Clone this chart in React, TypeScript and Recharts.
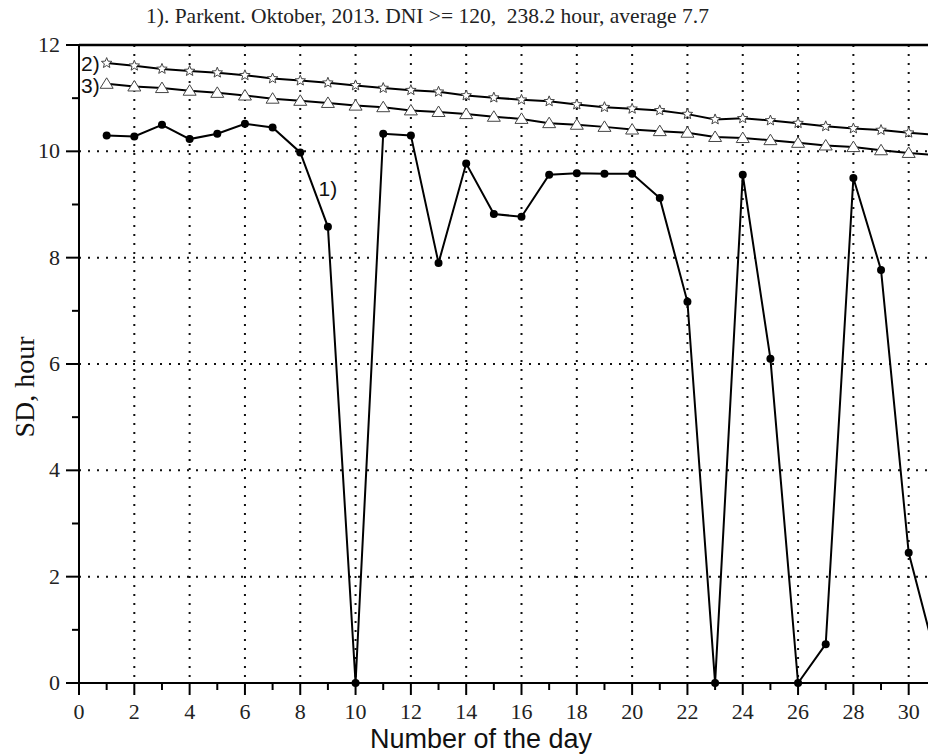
import React from 'react';
import { LineChart, Line, XAxis, YAxis, CartesianGrid, ReferenceLine, LabelList, Label } from 'recharts';

// day of October 2013
const days = [
  1, 2, 3, 4, 5, 6, 7, 8, 9, 10, 11, 12, 13, 14, 15, 16,
  17, 18, 19, 20, 21, 22, 23, 24, 25, 26, 27, 28, 29, 30, 31,
];

// 1) measured sunshine duration, DNI >= 120
const sdHours = [
  10.3, 10.28, 10.5, 10.23, 10.33, 10.52, 10.45, 9.98, 8.58, 0, 10.33, 10.3, 7.9, 9.77, 8.82, 8.77,
  9.56, 9.59, 9.58, 9.58, 9.12, 7.17, 0, 9.56, 6.1, 0, 0.73, 9.5, 7.77, 2.45, 0.45,
];

// 2) stars
const curve2 = [
  11.66, 11.61, 11.55, 11.51, 11.48, 11.43, 11.37, 11.33, 11.29, 11.24, 11.19, 11.15, 11.12, 11.05, 11.01, 10.97,
  10.94, 10.88, 10.83, 10.8, 10.77, 10.7, 10.6, 10.62, 10.58, 10.53, 10.47, 10.43, 10.4, 10.35, 10.31,
];

// 3) triangles
const curve3 = [
  11.27, 11.22, 11.19, 11.14, 11.1, 11.05, 10.99, 10.95, 10.91, 10.86, 10.83, 10.77, 10.74, 10.7, 10.65, 10.61,
  10.53, 10.5, 10.46, 10.41, 10.38, 10.35, 10.27, 10.25, 10.21, 10.16, 10.11, 10.08, 10.02, 9.97, 9.93,
];

const xTicks = Array.from({ length: 33 }, (_, i) => i);
const yTicks = Array.from({ length: 13 }, (_, i) => i);
const xGrid = [2, 4, 6, 8, 10, 12, 14, 16, 18, 20, 22, 24, 26, 28, 30, 32];
const yGrid = [2, 4, 6, 8, 10];

const data = days.map((d, i) => ({ day: d, sd: sdHours[i], c2: curve2[i], c3: curve3[i] }));

const SERIF = '"Liberation Serif", "Times New Roman", serif';
const SANS = '"Liberation Sans", Arial, sans-serif';

const XTick = (props: any) => {
  const { x, y, payload } = props;
  const major = payload.value % 2 === 0;
  return (
    <g>
      <line x1={x} x2={x} y1={y} y2={y + (major ? 12 : 7)} stroke="#000" strokeWidth={2} />
      {major && payload.value <= 30 && (
        <text x={x} y={y + 36} textAnchor="middle" fontFamily={SERIF} fontSize={22} fill="#222">
          {payload.value}
        </text>
      )}
    </g>
  );
};

const YTick = (props: any) => {
  const { x, y, payload } = props;
  const major = payload.value % 2 === 0;
  return (
    <g>
      <line x1={x - (major ? 13 : 7)} x2={x} y1={y} y2={y} stroke="#000" strokeWidth={2} />
      {major && (
        <text x={x - 19} y={y + 7} textAnchor="end" fontFamily={SERIF} fontSize={22} fill="#222">
          {payload.value}
        </text>
      )}
    </g>
  );
};

const starPath = (cx: number, cy: number, ro: number, ri: number) => {
  const pts: string[] = [];
  for (let k = 0; k < 10; k++) {
    const r = k % 2 === 0 ? ro : ri;
    const a = -Math.PI / 2 + (k * Math.PI) / 5;
    pts.push(`${(cx + r * Math.cos(a)).toFixed(2)},${(cy + r * Math.sin(a)).toFixed(2)}`);
  }
  return 'M' + pts.join('L') + 'Z';
};

const StarDot = (p: any) =>
  p.cx == null ? null : (
    <path key={p.index} d={starPath(p.cx, p.cy, 5.5, 2.4)} fill="#fff" stroke="#444" strokeWidth={1} />
  );

const TriDot = (p: any) =>
  p.cx == null ? null : (
    <path
      key={p.index}
      d={`M${p.cx},${p.cy - 6}L${p.cx + 6.5},${p.cy + 4.5}L${p.cx - 6.5},${p.cy + 4.5}Z`}
      fill="#fff"
      stroke="#444"
      strokeWidth={1}
    />
  );

const RoundDot = (p: any) =>
  p.cx == null ? null : <circle key={p.index} cx={p.cx} cy={p.cy} r={4} fill="#000" />;

const seriesTag = (text: string, at: number, dx: number, dy: number, anchor: string) => (props: any) => {
  const { x, y, index } = props;
  if (index !== at) return null;
  return (
    <text x={x + dx} y={y + dy} textAnchor={anchor} dominantBaseline="central" fontFamily={SANS} fontSize={21} fill="#111">
      {text}
    </text>
  );
};

const App: React.FC = () => {
  return (
    <div style={{ position: 'absolute', left: 0, top: 0, width: 928, height: 755, overflow: 'hidden', background: '#fff' }}>
      <svg width={928} height={40} style={{ position: 'absolute', left: 0, top: 0 }}>
        <text x={146} y={23} fontFamily={SERIF} fontSize={21.5} fill="#222" style={{ whiteSpace: 'pre' }}>
          {'1). Parkent. Oktober, 2013. DNI >= 120,  238.2 hour, average 7.7'}
        </text>
      </svg>
      <LineChart width={970} height={755} data={data} margin={{ top: 45, right: 6, left: 0, bottom: 0 }}>
        <CartesianGrid
          horizontalValues={yGrid}
          verticalValues={xGrid}
          stroke="#111"
          strokeWidth={2}
          strokeDasharray="2 7"
        />
        <XAxis
          type="number"
          dataKey="day"
          domain={[0, 32]}
          ticks={xTicks}
          interval={0}
          height={72}
          tickSize={0}
          tickMargin={0}
          tick={<XTick />}
          axisLine={{ stroke: '#000', strokeWidth: 2 }}
        >
          <Label
            content={(p: any) => (
              <text x={p.viewBox.x + 402} y={p.viewBox.y + 65} textAnchor="middle" fontFamily={SANS} fontSize={27} fill="#111">
                Number of the day
              </text>
            )}
          />
        </XAxis>
        <YAxis
          type="number"
          domain={[0, 12]}
          ticks={yTicks}
          interval={0}
          width={79}
          tickSize={0}
          tickMargin={0}
          tick={<YTick />}
          axisLine={{ stroke: '#000', strokeWidth: 2 }}
        >
          <Label
            content={(p: any) => (
              <text
                x={p.viewBox.x + 24}
                y={p.viewBox.y + 342}
                transform={`rotate(-90, ${p.viewBox.x + 24}, ${p.viewBox.y + 342})`}
                textAnchor="middle"
                dominantBaseline="central"
                fontFamily={SERIF}
                fontSize={28}
                fill="#111"
              >
                SD, hour
              </text>
            )}
          />
        </YAxis>
        <ReferenceLine y={12} stroke="#000" strokeWidth={2.5} />
        <Line dataKey="c2" stroke="#000" strokeWidth={2} dot={StarDot} isAnimationActive={false}>
          <LabelList dataKey="c2" content={seriesTag('2)', 0, -7, 0, 'end')} />
        </Line>
        <Line dataKey="c3" stroke="#000" strokeWidth={2} dot={TriDot} isAnimationActive={false}>
          <LabelList dataKey="c3" content={seriesTag('3)', 0, -7, 2, 'end')} />
        </Line>
        <Line dataKey="sd" stroke="#000" strokeWidth={2} dot={RoundDot} isAnimationActive={false}>
          <LabelList dataKey="sd" content={seriesTag('1)', 8, 0, -38, 'middle')} />
        </Line>
      </LineChart>
    </div>
  );
};

export default App;
